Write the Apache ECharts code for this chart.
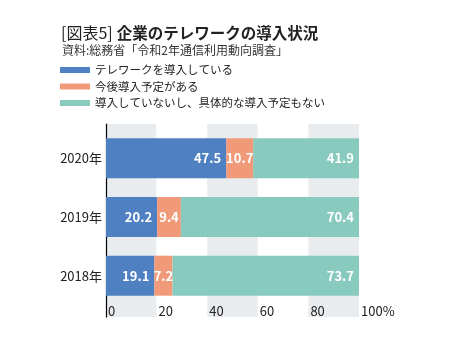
<!DOCTYPE html>
<html><head><meta charset="utf-8">
<script src="https://cdn.jsdelivr.net/npm/echarts@6/dist/echarts.min.js"></script>
<style>html,body{margin:0;padding:0;background:#fff}#c{width:456px;height:340px}</style>
</head><body><div id="c"></div>
<script>
const years = ['2020年', '2019年', '2018年'];
const seriesNames = ['テレワークを導入している', '今後導入予定がある', '導入していないし、具体的な導入予定もない'];
const introduced = [47.5, 20.2, 19.1];
const planned = [10.7, 9.4, 7.2];
const notPlanned = [41.9, 70.4, 73.7];
const tickLabels = ['0', '20', '40', '60', '80', '100%'];
const colors = ['#4f80c2', '#f09a7a', '#88cbbe'];
const F = '"Noto Sans CJK JP", "Noto Sans", sans-serif';

const chart = echarts.init(document.getElementById('c'), null, {renderer: 'canvas'});
const barLabel = (pos, dist) => ({
  show: true, position: pos, distance: dist, color: '#fff', fontSize: 13, fontWeight: 'bold', fontFamily: F,
  formatter: p => p.value.toFixed(1)
});
chart.setOption({
  animation: false,
  textStyle: {fontFamily: F},
  title: [{
    left: 56, top: 20,
    text: '{a|[図表5]}{b|企業のテレワークの導入状況}',
    textStyle: {rich: {
      a: {fontSize: 16, fontWeight: 'normal', color: '#222', fontFamily: F},
      b: {fontSize: 15.5, fontWeight: 'bold', color: '#222', fontFamily: F, padding: [0, 0, 0, 4]}
    }}
  }, {
    left: 57, top: 39,
    text: '資料:総務省「令和2年通信利用動向調査」',
    textStyle: {fontSize: 12, fontWeight: 'normal', color: '#333', fontFamily: F}
  }],
  legend: {
    orient: 'vertical', left: 55, top: 58, itemWidth: 30, itemHeight: 6, itemGap: 2.5,
    icon: 'rect', data: seriesNames,
    textStyle: {fontSize: 11.5, color: '#222', fontFamily: F, lineHeight: 14}
  },
  grid: [
    {left: 106, right: 97, top: 124, bottom: 23},
    {left: 106, right: 97, top: 129, bottom: 35}
  ],
  xAxis: [{
    gridIndex: 0, type: 'value', min: 0, max: 100, interval: 20,
    axisLine: {show: false}, axisTick: {show: false}, splitLine: {show: false},
    splitArea: {show: true, areaStyle: {color: ['#e9ecef', '#ffffff']}},
    axisLabel: {inside: true, margin: -1, align: 'left', padding: [0, 0, 0, 2], fontSize: 13, color: '#222', fontFamily: F,
      formatter: (v) => tickLabels[Math.round(v / 20)]}
  }, {
    gridIndex: 1, type: 'value', min: 0, max: 100, show: false
  }],
  yAxis: [{
    gridIndex: 0, type: 'value', min: 0, max: 1, axisLine: {show: true, lineStyle: {color: '#000', width: 1.2}},
    axisTick: {show: false}, axisLabel: {show: false}, splitLine: {show: false}
  }, {
    gridIndex: 1, type: 'category', data: years, inverse: true,
    axisLine: {show: false}, axisTick: {show: false},
    axisLabel: {fontSize: 13, color: '#222', margin: 4, fontFamily: F}
  }],
  series: [
    {name: seriesNames[0], type: 'bar', stack: 's', xAxisIndex: 1, yAxisIndex: 1, barWidth: 40, data: introduced,
      itemStyle: {color: colors[0]}, label: barLabel('insideRight', 5)},
    {name: seriesNames[1], type: 'bar', stack: 's', xAxisIndex: 1, yAxisIndex: 1, barWidth: 40, data: planned,
      itemStyle: {color: colors[1]}, label: barLabel('inside', 0)},
    {name: seriesNames[2], type: 'bar', stack: 's', xAxisIndex: 1, yAxisIndex: 1, barWidth: 40, data: notPlanned,
      itemStyle: {color: colors[2]}, label: barLabel('insideRight', 5)}
  ]
});
</script></body></html>
